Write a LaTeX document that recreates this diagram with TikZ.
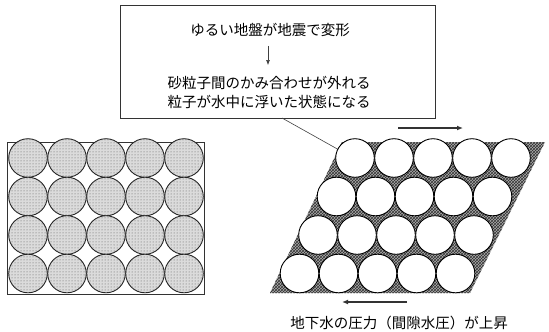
\documentclass[tikz,border=0pt]{standalone}
\usepackage{fontspec}
\newfontfamily\jp{Noto Sans CJK JP}
\usetikzlibrary{patterns,arrows.meta}

\tikzset{
  jptext/.style={font=\jp\fontsize{14.5}{16}\selectfont, inner sep=0pt},
  sandgrain/.style={draw=black!85, line width=0.9pt, fill=gray!28,
    postaction={pattern=dots, pattern color=black!65}},
  loosegrain/.style={draw=black, line width=0.9pt, fill=white},
  porewater/.style={fill=gray!65, postaction={pattern=crosshatch, pattern color=black!80}},
  shear/.style={draw=black!80, line width=1.2pt, -{Latex[length=6pt,width=5pt]}},
  thinline/.style={draw=black!75, line width=0.6pt}
}

\begin{document}
\begin{tikzpicture}[x=1pt,y=-1pt]
\useasboundingbox (0,0) rectangle (549,332);

% explanation box
\node (box) [draw=black!80, line width=0.7pt, minimum width=315pt, minimum height=113pt,
  anchor=north west, inner sep=0pt] at (120,5) {};
\node (t1) [jptext] at (270,30) {ゆるい地盤が地震で変形};
\node (t2) [jptext, align=center] at (269,92)
  {砂粒子間のかみ合わせが外れる\\[3pt]粒子が水中に浮いた状態になる};
\draw [thinline, -{Latex[length=5pt,width=4pt]}] (t1.south -| 268,0) ++(0,9) coordinate (a1) -- (268,65) coordinate (a2);

% leader to the loosened grains
\coordinate (ls) at (282,118);
\coordinate (le) at (357,160);
\draw [thinline] (ls) -- (le);

% dense packing before the earthquake
\node (dense) [draw=black!80, line width=0.8pt, minimum width=197pt, minimum height=152pt,
  anchor=north west, inner sep=0pt] at (7,142) {};
\foreach \j in {0,...,3}
  \foreach \i in {0,...,4}
    \path [sandgrain] (28+39*\i, 158+38.5*\j) circle [radius=19.3pt];

% sheared, loosened packing
\coordinate (p1) at (270,293);
\coordinate (p2) at (470,293);
\coordinate (p3) at (545,142);
\coordinate (p4) at (342,142);
\path [porewater] (p1) -- (p2) -- (p3) -- (p4) -- cycle;
\foreach \j in {0,...,3}
  \foreach \i in {0,...,4}
    \path [loosegrain] (355-18.5*\j+39*\i, 158+38.5*\j) circle [radius=19.3pt];

% shear arrows
\coordinate (sa1) at (398,128);
\coordinate (sa2) at (463,128);
\draw [shear] (sa1) -- (sa2);
\coordinate (sb1) at (407,302);
\coordinate (sb2) at (342,302);
\draw [shear] (sb1) -- (sb2);

\node (caption) [jptext] at (399,323) {地下水の圧力（間隙水圧）が上昇};
\end{tikzpicture}
\end{document}
